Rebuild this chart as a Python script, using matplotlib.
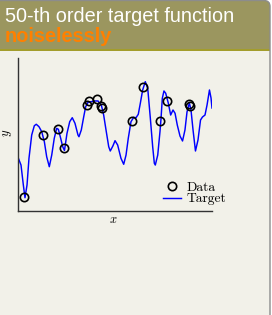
import matplotlib
matplotlib.use("Agg")
import matplotlib.pyplot as plt
from matplotlib.patches import FancyBboxPatch, Rectangle
from matplotlib.transforms import IdentityTransform

# ---- text ----
title_line1 = "50-th order target function"
title_line2 = "noiselessly"
legend_labels = ["Data", "Target"]
x_label = "$x$"
y_label = "$y$"

# ---- target function ----
target_x = [-1.000, -0.964, -0.940, -0.923, -0.902, -0.882, -0.854, -0.827, -0.807, -0.779,
            -0.751, -0.724, -0.700, -0.673, -0.648, -0.622, -0.597, -0.580, -0.556, -0.535,
            -0.517, -0.491, -0.463, -0.437, -0.409, -0.378, -0.368, -0.344, -0.319, -0.299,
            -0.275, -0.241, -0.206, -0.172, -0.138, -0.114, -0.087, -0.062, -0.046, -0.018,
            0.003, 0.030, 0.064, 0.092, 0.116, 0.139, 0.167, 0.195, 0.219, 0.242,
            0.263, 0.287, 0.314, 0.339, 0.366, 0.390, 0.407, 0.417, 0.442, 0.465,
            0.476, 0.489, 0.506, 0.524, 0.551, 0.575, 0.599, 0.620, 0.643, 0.671,
            0.697, 0.722, 0.743, 0.767, 0.784, 0.805, 0.830, 0.856, 0.882, 0.902,
            0.928, 0.949, 0.974, 0.990, 1.000]
target_y = [-0.280, -0.398, -0.659, -0.826, -0.659, -0.310, -0.005, 0.117, 0.136, 0.104,
            0.039, -0.092, -0.289, -0.420, -0.267, -0.048, 0.083, 0.070, -0.048, -0.158,
            -0.208, 0.018, 0.170, 0.222, 0.149, -0.005, -0.027, 0.061, 0.235, 0.366,
            0.424, 0.432, 0.441, 0.441, 0.388, 0.257, 0.039, -0.158, -0.214, -0.145,
            -0.079, -0.136, -0.310, -0.388, -0.267, -0.048, 0.170, 0.227, 0.222, 0.267,
            0.411, 0.585, 0.694, 0.607, 0.214, -0.158, -0.375, -0.398, -0.267, 0.039,
            0.214, 0.476, 0.572, 0.542, 0.411, 0.257, 0.323, 0.280, 0.126, -0.018,
            -0.083, 0.061, 0.297, 0.415, 0.323, 0.061, -0.214, -0.070, 0.192, 0.231,
            0.257, 0.388, 0.585, 0.480, 0.349]

# ---- data points ----
data_x = [-0.930, -0.741, -0.580, -0.522, -0.288, -0.263, -0.185, -0.143, -0.131,
          0.174, 0.294, 0.465, 0.534, 0.760, 0.769]
data_y = [-0.823, -0.011, 0.074, -0.179, 0.386, 0.447, 0.471, 0.379, 0.345,
          0.179, 0.620, 0.183, 0.441, 0.401, 0.369]

W, H = 272, 315
fig = plt.figure(figsize=(W / 100, H / 100), dpi=100)
fig.patch.set_facecolor("white")
px = IdentityTransform()

body_col = "#f2f1e9"
bar_col = "#9b965f"
line_col = "#a39d2c"

# card body
fig.add_artist(FancyBboxPatch((-10, -10), 280, H + 9.5,
                              boxstyle="round,pad=0,rounding_size=6",
                              transform=px, fc=body_col, ec="none", zorder=0))
# title bar
fig.add_artist(FancyBboxPatch((-10, H - 49), 280, 48.5,
                              boxstyle="round,pad=0,rounding_size=6",
                              transform=px, fc=bar_col, ec="none", zorder=0.1))
fig.add_artist(Rectangle((-10, H - 49), 280, 12, transform=px,
                         fc=bar_col, ec="none", zorder=0.1))
fig.add_artist(Rectangle((-10, H - 50.5), 280, 1.6, transform=px,
                         fc=line_col, ec="none", zorder=0.2))
# card outline
fig.add_artist(FancyBboxPatch((-10, -10), 280, H + 9.5,
                              boxstyle="round,pad=0,rounding_size=6",
                              transform=px, fc="none", ec="#8c8c8c", lw=1.0, zorder=0.3))

fig.text(5 / W, 1 - 21.5 / H, title_line1, color="white", fontsize=14.3,
         family="Liberation Sans", va="baseline", ha="left")
fig.text(5 / W, 1 - 42.5 / H, title_line2, color="#ff8000", fontsize=14.3,
         family="Liberation Sans", weight="bold", va="baseline", ha="left")

plt.rcParams["mathtext.fontset"] = "cm"

ax = fig.add_axes([17.5 / W, (H - 211) / H, 194.5 / W, 152.7 / H])
ax.set_facecolor("none")
ax.plot(target_x, target_y, color="#0000ff", lw=1.05, label=legend_labels[1], zorder=2)
ax.plot(data_x, data_y, linestyle="none", marker="o", markersize=6,
        markerfacecolor="none", markeredgecolor="black", markeredgewidth=1.2,
        label=legend_labels[0], zorder=3)
ax.set_xlim(-1, 1)
ax.set_ylim(-1, 1)
ax.set_xticks([])
ax.set_yticks([])
for s in ["top", "right"]:
    ax.spines[s].set_visible(False)
for s in ["left", "bottom"]:
    ax.spines[s].set_color("#333333")
    ax.spines[s].set_linewidth(1.0)

ax.set_xlabel(x_label, fontsize=9)
ax.set_ylabel(y_label, fontsize=9, va="center")
ax.xaxis.set_label_coords(0.491, -0.012)
ax.yaxis.set_label_coords(-0.052, 0.51)

handles, labels = ax.get_legend_handles_labels()
order = [1, 0]
ax.legend([handles[i] for i in order], [labels[i] for i in order],
          loc="upper left", bbox_to_anchor=(163 / W, 1 - 181 / H),
          bbox_transform=fig.transFigure, frameon=False, borderpad=0,
          borderaxespad=0, handlelength=1.3, handletextpad=0.4,
          labelspacing=-0.05, numpoints=1,
          prop={"family": "cmr10", "size": 9.8})

fig.savefig("out.png", dpi=100, facecolor=fig.get_facecolor())
